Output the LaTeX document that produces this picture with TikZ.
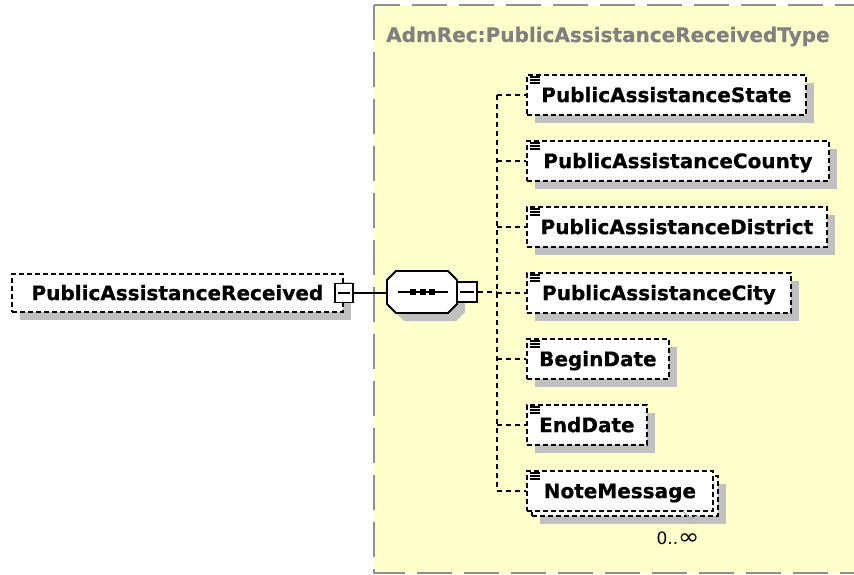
\documentclass[tikz,border=0pt]{standalone}
\usepackage{fontspec}
\setmainfont{DejaVu Sans}
\usetikzlibrary{calc}
\definecolor{yel}{HTML}{FFFFCC}
\definecolor{shadowgray}{HTML}{C0C0C0}
\definecolor{boxgray}{HTML}{909090}
\definecolor{titlegray}{HTML}{808080}
\newcommand\elfont{\fontsize{20pt}{24pt}\selectfont\bfseries\addfontfeature{FakeBold=0.6}}
\newcommand\elicon[1]{\foreach \d in {3,6,9} {\draw[line width=1.2pt] ($(#1.north west)+(4,\d)$) -- ++(10,0);}}
\tikzset{
  elem/.style={draw, fill=white, line width=1.8pt, dash pattern=on 5pt off 3pt,
    font=\elfont, inner sep=0pt, anchor=north west, minimum height=40pt,
    text height=14.5pt, text depth=0pt,
    preaction={fill=shadowgray, draw=none, transform canvas={shift={(8pt,-8pt)}}}},
  plainelem/.style={draw, fill=white, line width=1.8pt, dash pattern=on 5pt off 3pt,
    font=\elfont, inner sep=0pt, anchor=north west, minimum height=40pt,
    text height=14.5pt, text depth=0pt},
  minusbox/.style={draw, solid, fill=white, line width=1.8pt, inner sep=0pt,
    minimum width=19pt, minimum height=19pt,
    path picture={\draw[line width=1.6pt] ([xshift=3pt]path picture bounding box.west) -- ([xshift=-3pt]path picture bounding box.east);}},
  conn/.style={line width=1.7pt, dash pattern=on 5pt off 4pt},
  title/.style={font=\elfont, text=titlegray, anchor=base west, inner sep=0pt}
}
\begin{document}
\begin{tikzpicture}[x=1pt,y=-1pt]
\clip (0,0) rectangle (854,575);
\fill[white] (0,0) rectangle (854,575);
% container
\draw[fill=yel, draw=boxgray, line width=2.6pt, dash pattern=on 35pt off 12pt] (374,5) -- (374,573) -- (900,573) -- (900,5) -- cycle;
\node[title] (ttl) at (386,42) {AdmRec:PublicAssistanceReceivedType};

% root element
\node[elem, minimum width=331pt, minimum height=38pt] (root) at (11,273) {PublicAssistanceReceived};
\node[minusbox, minimum height=19pt, minimum width=18pt] (rminus) at (root.east) {};

% sequence compositor
\node[inner sep=0pt, minimum width=70pt, minimum height=42pt] (seq) at (422,292) {};
\fill[shadowgray] (404,279) -- (456,279) -- (465,288) -- (465,312) -- (456,321) -- (404,321) -- (395,312) -- (395,288) -- cycle;
\draw[fill=white, line width=1.8pt] (396,271) -- (448,271) -- (457,280) -- (457,304) -- (448,313) -- (396,313) -- (387,304) -- (387,280) -- cycle;
\draw[line width=1.6pt] (398,292) -- (448,292);
\foreach \x in {413,422.5,432} {\fill (\x-3,289) rectangle (\x+3,295);}
\node[minusbox, minimum width=20pt, minimum height=20pt] (sminus) at (467,292) {};

\draw[line width=1.8pt] (rminus.east) -- (rminus.east -| seq.west);

% children
\node[elem, minimum width=279pt] (c1) at (526,74) {PublicAssistanceState};
\node[elem, minimum width=302pt] (c2) at (526,140) {PublicAssistanceCounty};
\node[elem, minimum width=300pt] (c3) at (526,206) {PublicAssistanceDistrict};
\node[elem, minimum width=264pt] (c4) at (526,272) {PublicAssistanceCity};
\node[elem, minimum width=142pt] (c5) at (526,338) {BeginDate};
\node[elem, minimum width=120pt] (c6) at (526,404) {EndDate};
\node[elem, minimum width=186pt] (c7b) at (531,475) {};
\node[plainelem, minimum width=186pt] (c7) at (526,470) {NoteMessage};
\foreach \n in {c1,c2,c3,c4,c5,c6,c7} {\elicon{\n}}
\node[font=\fontsize{17pt}{20pt}\selectfont, inner sep=0pt] (card) at (678,538) {0..\scalebox{1.5}[1.3]{∞}};
\draw[gray!60, line width=1pt] (683,511) -- (691,520) -- (698,515);

% connectors
\coordinate (sp) at (497,292);
\draw[conn] (sminus.east) -- (sp);
\draw[conn] (c1.west -| sp) -- (c7.west -| sp);
\foreach \n in {c1,c2,c3,c4,c5,c6,c7} {\draw[conn] (\n.west -| sp) -- (\n.west);}
\end{tikzpicture}
\end{document}
